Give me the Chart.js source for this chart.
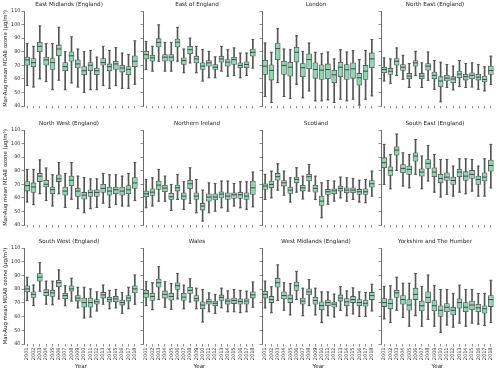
<!DOCTYPE html>
<html>
<head>
<meta charset="utf-8">
<script src="https://cdn.jsdelivr.net/npm/chart.js@4.4.1/dist/chart.umd.min.js"></script>
<style>
body { margin: 0; background: #fff; width: 500px; height: 374px; position: relative; overflow: hidden; }
.panel { position: absolute; }
</style>
</head>
<body>
<script>
// years on the x axis
var years = ['2001', '2002', '2003', '2004', '2005', '2006', '2007', '2008', '2009',
    '2010', '2011', '2012', '2013', '2014', '2015', '2016', '2017', '2018'];

var regionNames = ['East Midlands (England)', 'East of England', 'London', 'North East (England)',
    'North West (England)', 'Northern Ireland', 'Scotland', 'South East (England)',
    'South West (England)', 'Wales', 'West Midlands (England)', 'Yorkshire and The Humber'];

var yTicks = [40, 50, 60, 70, 80, 90, 100, 110];

// one row per year: [min, q1, median, q3, max]
var eastMidlands = [
    [55, 70, 74, 76, 86], [54, 69, 72, 75, 84], [60, 80, 84, 87, 99], [58, 70, 74, 76, 86],
    [52, 67, 72, 75, 86], [59, 77, 82, 85, 98], [52, 66, 69, 72, 80], [57, 73, 77, 80, 91],
    [54, 68, 71, 74, 82], [50, 63, 66, 69, 80], [52, 66, 70, 72, 81], [52, 63, 66, 68, 76],
    [55, 70, 72, 75, 84], [53, 66, 69, 71, 81], [55, 67, 71, 73, 83], [53, 65, 68, 70, 79],
    [53, 63, 67, 69, 78], [56, 69, 73, 77, 88]
];
var eastOfEngland = [
    [66.9, 74.7, 77.9, 80.3, 87.6], [65.7, 73, 75.5, 77.4, 84], [73, 83.5, 86.9, 89.6, 99.8],
    [65.7, 73, 76, 77.9, 86.9], [65.7, 73, 76, 77.9, 86.9], [73, 83.5, 87, 89.4, 98],
    [64.5, 70.6, 73.5, 75.5, 82], [71.8, 78.6, 81.5, 84, 90], [64.5, 71.8, 74.7, 76.7, 84],
    [58.4, 66.9, 69.4, 71.8, 81.5], [60.8, 69.4, 71.8, 73.5, 80.3], [60.8, 66.9, 68.6, 70.6, 76.2],
    [65.7, 72.3, 74.7, 76.7, 84], [62, 69.4, 72.3, 74.2, 81.5], [62.5, 70.6, 74.2, 75.9, 82.8],
    [60.8, 68.2, 69.9, 71.8, 79], [62.5, 68.2, 70.6, 72.5, 79], [68, 76.7, 79.6, 82, 89]
];
var london = [
    [47, 63.3, 69.4, 73.7, 86.4], [42.6, 59.1, 66.2, 70.3, 79.6], [57.2, 74.2, 82.3, 86.4, 97],
    [47, 63.3, 69.9, 73, 82], [45.5, 62, 68.6, 72.3, 81.5], [56, 72.5, 79.6, 83.2, 91.8],
    [46, 61.6, 68.2, 71.3, 80.3], [51.1, 67.4, 74.2, 78.4, 86.4], [43.8, 60.4, 66.9, 71.8, 79.6],
    [43.8, 59.6, 66.4, 70.3, 78.6], [44.5, 60.1, 66.9, 71, 79.8], [42.6, 57.2, 63, 66.4, 74.7],
    [45, 61.6, 68.6, 72.3, 81.5], [43.8, 59.6, 66.7, 70.6, 79.8], [45, 60.4, 67.4, 71.8, 80.8],
    [40.7, 55.3, 60.8, 64, 74.2], [45, 59.6, 65.7, 69.9, 81], [47.5, 68.2, 74.7, 79.1, 89]
];
var northEast = [
    [58.4, 64.5, 66.9, 68.6, 75.5], [56.7, 63.3, 65.7, 67.7, 74.7], [62.5, 70, 73, 75, 82.8],
    [59.6, 66.2, 68.6, 70.6, 77.4], [53.6, 60.1, 62, 64, 71.3], [62.5, 69.4, 71.8, 73.5, 80.3],
    [53.6, 60.1, 62, 64, 71.8], [58.9, 66.4, 69.4, 71.3, 79.8], [52.3, 60.1, 62.6, 65, 73.5],
    [43.1, 54.3, 58.4, 61.6, 72.3], [53.6, 58.4, 60.6, 62.6, 70.6], [51.9, 57.2, 59.9, 61.6, 69.4],
    [54.3, 60.8, 63.5, 65.7, 73.5], [53.6, 59.1, 61.6, 63.3, 71.3], [54, 60.1, 62.6, 64.5, 71.8],
    [52.3, 59.1, 61.3, 63.3, 70.6], [51.1, 57.7, 59.6, 62, 68.9], [56, 63.3, 66.2, 69.4, 76.7]
];
var northWest = [
    [57, 65, 69, 72, 81], [55, 64, 68, 71, 81], [63, 72, 76, 78, 88], [58, 68, 70, 73, 82],
    [54, 63, 66, 68, 77], [63, 72, 74, 77, 86], [53, 62, 65, 68, 78], [59, 69, 73, 76, 86],
    [52, 61, 65, 67, 76], [49, 59, 62, 64, 75], [52, 61, 64, 66, 74], [53, 61, 64, 66, 74],
    [56, 64, 67, 70, 78], [53, 62, 65, 68, 77], [55, 63, 66, 68, 77], [54, 62, 65, 68, 76],
    [54, 63, 66, 69, 78], [58, 67, 71, 75, 86]
];
var northernIreland = [
    [52.7, 60.8, 63, 65, 73.6], [54, 61.8, 64.2, 66.7, 74.8], [57.6, 66.2, 69.4, 72.4, 81],
    [57.6, 64.5, 67.2, 69.2, 76], [50.7, 58.8, 60.8, 63.3, 69.9], [58.8, 65, 67.4, 69.4, 77.3],
    [51.5, 58.8, 61.3, 63.8, 71.9], [55.9, 66.7, 70.4, 73, 82.2], [49, 58.8, 61.3, 63.8, 73.6],
    [42.9, 51, 53.9, 55.9, 65.7], [49, 57.6, 60.6, 63, 71.1], [50.2, 58.4, 60.6, 63, 70.6],
    [52.7, 60, 62.8, 64.5, 72.4], [50.2, 58.8, 61.3, 63.8, 72.4], [54, 59.6, 62.3, 63.8, 70.6],
    [52.7, 59.6, 62.3, 64.2, 71.9], [51.5, 58.8, 61.3, 63.8, 71.9], [53.4, 62.5, 67.4, 72.4, 79]
];
var scotland = [
    [58.8, 66.2, 68.7, 70.4, 77.3], [60, 67.4, 69.9, 72.4, 79.7], [65.7, 73, 75.6, 78, 85.1],
    [62, 68.7, 71.1, 72.8, 79.7], [56.9, 63.3, 65.7, 67.9, 74.8], [64.2, 71.1, 73.6, 75.3, 82.2],
    [59.2, 65, 67.4, 69.2, 76], [65, 72.4, 75.6, 77.3, 84.6], [58.8, 64.2, 67, 69.2, 76],
    [45.3, 54.4, 57.6, 61.3, 71.1], [55.2, 62.5, 64.5, 66.2, 72.8], [57.6, 63, 65.2, 66.7, 72.4],
    [60, 65, 67, 68.7, 75.3], [57.6, 63.8, 65.7, 67.4, 74.8], [58.8, 63.8, 65.7, 67.4, 74.3],
    [56.9, 62.5, 64.5, 66.2, 73], [56.4, 62.5, 64.5, 66.7, 73.6], [61.3, 67.9, 70.4, 72.8, 79.7]
];
var southEast = [
    [69.9, 82.2, 85.9, 89.6, 99.4], [66.7, 76.5, 80.2, 82.9, 92], [80.2, 91.5, 95.2, 97.7, 107],
    [68.7, 78.5, 81.7, 84.6, 93.2], [67.4, 77.3, 81, 83.4, 92], [77.3, 87, 90.8, 93.2, 103],
    [66.7, 76, 79, 81.4, 90.8], [72.4, 81.7, 85.4, 88.3, 98.6], [64.2, 75.6, 79, 82.2, 92],
    [60.6, 71.1, 74.3, 77.3, 88.3], [62.5, 72.8, 75.3, 78.5, 88.3], [61.3, 69.9, 72.8, 75.3, 83.4],
    [64.2, 75.6, 79, 81, 88.8], [63, 72.8, 76, 79.3, 88.8], [65, 74.3, 77.3, 80.2, 88.3],
    [61.3, 69.9, 73.6, 76, 83.4], [61.3, 72.4, 75.3, 78.5, 88.8], [67.4, 79.7, 83.9, 87.8, 99.4]
];
var southWest = [
    [71.7, 78, 80.2, 82.5, 88.7], [68, 74, 76.2, 78, 83], [78.5, 85.8, 88.7, 91.4, 99.3],
    [69, 75.3, 77.6, 79.6, 85.8], [68.6, 74.7, 77.3, 79.1, 85.8], [72.9, 81.8, 84.7, 86.5, 94.1],
    [67.9, 73.1, 75.3, 76.9, 82.5], [71.3, 78.5, 80.2, 82.5, 88], [66.4, 71.3, 73.5, 75.3, 81.4],
    [59, 66.8, 70.2, 73.5, 81.4], [59.7, 66.8, 70.2, 73.5, 80.2], [64.1, 69, 70.8, 72.4, 78],
    [69, 73.5, 75.8, 77.6, 83], [65.7, 70.6, 72.4, 74, 79.1], [66.4, 70.8, 72.9, 74.7, 79.8],
    [62.4, 68.4, 70.2, 72, 77.6], [65.7, 71.3, 73.5, 75.3, 81.4], [69, 77.3, 80.2, 82.5, 90.3]
];
var wales = [
    [68, 74, 76.9, 79.1, 85.4], [65, 71.7, 74.7, 76.9, 84.7], [72.4, 81.4, 84.7, 87.4, 96.4],
    [66.8, 73.5, 76.2, 78.7, 85.4], [65.3, 72, 74.7, 76.9, 84], [72.9, 79.8, 82.5, 84.7, 91.4],
    [65.7, 71.7, 74.2, 76.9, 82.9], [70.6, 76.9, 79.1, 81.4, 87.6], [65.7, 71.3, 73.1, 75.3, 80.7],
    [56, 65.7, 68.4, 70.8, 79.6], [63.5, 69, 70.8, 72.4, 77.3], [62.4, 67.9, 69.7, 71.3, 76.2],
    [66.4, 71.7, 74, 75.8, 80.7], [63.5, 69, 71.3, 72.9, 78.7], [63.5, 69.5, 71.7, 73.5, 79.8],
    [62.8, 69, 71, 72.9, 79.1], [63.5, 69, 71.3, 72.9, 78.5], [66.8, 73.5, 75.8, 78, 85.2]
];
var westMidlands = [
    [66.4, 73.5, 76.2, 78.5, 85.8], [62.8, 70.2, 72.4, 74.7, 81.8], [71.7, 81.4, 84.7, 88, 97.7],
    [64.6, 72.9, 75.3, 78, 84.7], [61.2, 70.2, 73.1, 75.8, 84], [72.4, 79.1, 82.5, 85.2, 93],
    [60.6, 69, 71.3, 73.5, 80.7], [68, 75.8, 78, 80.2, 87], [61.2, 69, 71.7, 74, 80.7],
    [55.6, 65, 68, 70.8, 78], [60.6, 68, 70.2, 72, 78], [59.7, 66.8, 69, 70.6, 76.4],
    [64.6, 71.3, 73.5, 75.8, 81.8], [60.6, 68, 70.8, 73.1, 78.7], [61.9, 70.2, 72.4, 74.7, 80.9],
    [60.1, 68, 70.2, 72.4, 78], [60.1, 67.5, 69.7, 72, 77.6], [64.1, 72.4, 75.3, 77.6, 83.6]
];
var yorkshire = [
    [58.3, 67.3, 70.2, 73.1, 82], [55.6, 65.7, 69.5, 72.4, 82.5], [64.6, 74, 77.3, 79.1, 88.7],
    [59.4, 69, 72.4, 75.3, 84.3], [53, 64.6, 68.4, 72.4, 84.3], [60.6, 72.4, 76.2, 80.7, 91.4],
    [53, 64.1, 67.9, 71.3, 82], [57.9, 70.2, 74, 78, 90.3], [53, 64.1, 67.9, 71.7, 82.5],
    [48.5, 60.1, 64.6, 67.9, 79.8], [53.8, 63.5, 66.8, 69.5, 79.8], [52.3, 61.2, 64.6, 66.8, 76.9],
    [55.2, 66.1, 70.2, 72.9, 82.9], [53, 63.5, 66.8, 70.2, 79.8], [55.2, 65, 68.4, 71.3, 79.8],
    [54.5, 63.5, 66.4, 69, 76.9], [53.4, 62.4, 65.7, 67.9, 76.9], [55.6, 67.3, 72.4, 75.3, 86.5]
];

var regionData = [eastMidlands, eastOfEngland, london, northEast, northWest, northernIreland,
    scotland, southEast, southWest, wales, westMidlands, yorkshire];

// page layout (plot area of each panel)
var plotLefts = [24, 142, 261, 380];
var plotTops = [11, 130, 248];
var plotW = 114;
var plotH = 96;
var titleBlock = 10;
var rightPad = 6;

var boxFill = 'rgb(143, 214, 178)';
var lineGray = '#555555';
var axisColor = '#444444';
var fontFamily = 'DejaVu Sans';

function col(stats, k) {
    return stats.map(function (s) { return s[k]; });
}

function makePanel(idx) {
    var row = Math.floor(idx / 4);
    var c = idx % 4;
    var stats = regionData[idx];
    var yw = c === 0 ? 24 : 4;
    var xh = row === 2 ? 26 : 4;
    var w = yw + plotW + rightPad;
    var h = titleBlock + plotH + xh;

    var div = document.createElement('div');
    div.className = 'panel';
    div.style.left = (plotLefts[c] - yw) + 'px';
    div.style.top = (plotTops[row] - titleBlock) + 'px';
    var cv = document.createElement('canvas');
    cv.width = w;
    cv.height = h;
    div.appendChild(cv);
    document.body.appendChild(div);

    var capStyle = {
        type: 'line', showLine: false, pointStyle: 'line', pointRadius: 1.4,
        pointBorderWidth: 1, pointBorderColor: lineGray, order: 0
    };

    new Chart(cv, {
        type: 'bar',
        data: {
            labels: years,
            datasets: [
                {
                    type: 'line', data: col(stats, 2), showLine: false, pointStyle: 'line',
                    pointRadius: 2.4, pointBorderWidth: 1, pointBorderColor: '#3d4a43', order: 0
                },
                Object.assign({ data: col(stats, 0) }, capStyle),
                Object.assign({ data: col(stats, 4) }, capStyle),
                {
                    data: stats.map(function (s) { return [s[1], s[3]]; }),
                    backgroundColor: boxFill, borderColor: lineGray, borderWidth: 0.8,
                    borderSkipped: false, barThickness: 5, grouped: false, order: 1
                },
                {
                    data: stats.map(function (s) { return [s[0], s[4]]; }),
                    backgroundColor: lineGray, borderWidth: 0, barThickness: 1,
                    grouped: false, order: 2
                }
            ]
        },
        options: {
            responsive: false,
            animation: false,
            events: [],
            layout: { padding: { left: 0, right: rightPad, top: 0, bottom: 0 } },
            plugins: {
                legend: { display: false },
                tooltip: { enabled: false },
                title: {
                    display: true, text: regionNames[idx], color: '#222',
                    font: { family: fontFamily, size: 5.6, weight: 'normal' },
                    padding: { top: 0.5, bottom: 2.8 }
                }
            },
            scales: {
                x: {
                    offset: true,
                    border: { display: false },
                    grid: {
                        offset: false, drawOnChartArea: false, drawTicks: true,
                        tickLength: 2.5, color: axisColor, lineWidth: 0.6
                    },
                    ticks: {
                        display: row === 2, autoSkip: false, maxRotation: 90, minRotation: 90,
                        padding: 1, color: '#333', font: { family: fontFamily, size: 5 }
                    },
                    title: {
                        display: row === 2, text: 'Year', color: '#222', padding: 0,
                        font: { family: fontFamily, size: 5.6 }
                    },
                    afterFit: function (s) { s.height = xh; }
                },
                y: {
                    min: 40, max: 110,
                    afterBuildTicks: function (s) {
                        s.ticks = yTicks.map(function (v) { return { value: v }; });
                    },
                    border: { display: true, color: axisColor, width: 0.8 },
                    grid: {
                        drawOnChartArea: false, drawTicks: true, tickLength: 2.5,
                        color: axisColor, lineWidth: 0.6
                    },
                    ticks: {
                        display: c === 0, padding: 1, color: '#333',
                        font: { family: fontFamily, size: 5 }
                    },
                    title: {
                        display: c === 0, text: 'Mar-Aug mean MDA8 ozone (\u03bcg/m\u00b3)',
                        color: '#222', padding: { top: 2, bottom: 0 },
                        font: { family: fontFamily, size: 5.4 }
                    },
                    afterFit: function (s) { s.width = yw; }
                }
            }
        }
    });
}

for (var i = 0; i < regionData.length; i++) {
    makePanel(i);
}
</script>
</body>
</html>
